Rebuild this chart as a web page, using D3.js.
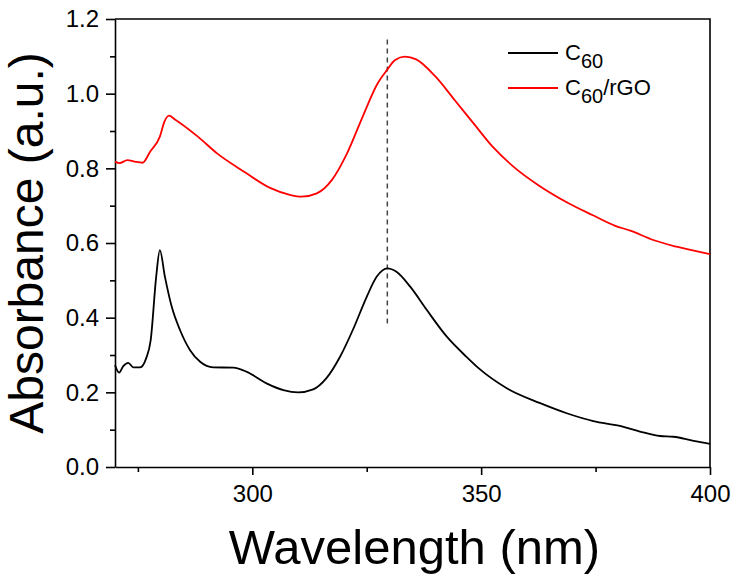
<!DOCTYPE html>
<html><head><meta charset="utf-8">
<script src="https://cdn.jsdelivr.net/npm/d3@7"></script>
<style>
html,body{margin:0;padding:0;background:#fff;}
svg{display:block;font-family:Arial,"Liberation Sans",sans-serif;}
</style></head>
<body>
<svg id="chart" width="740" height="577"></svg>
<script>
// ---- data ----
const c60Wavelength = [270, 270.9, 271.8, 272.9, 274, 275.5, 276.8, 277.8, 279, 279.8, 280.9, 282.4, 284.2, 286.4, 288.6, 291.5, 295.8, 298.8, 303.1, 306.8, 310, 313.3, 316.2, 319.2, 322.1, 325, 327.2, 329.5, 331.5, 334.5, 338.1, 342.5, 346.8, 349.5, 355.6, 362.9, 368.7, 374.5, 380.3, 384.7, 389.1, 392, 396.4, 400];
const c60Absorbance = [0.273, 0.253, 0.27, 0.279, 0.267, 0.267, 0.291, 0.34, 0.51, 0.581, 0.51, 0.429, 0.367, 0.313, 0.282, 0.267, 0.266, 0.255, 0.224, 0.206, 0.200, 0.208, 0.238, 0.296, 0.371, 0.456, 0.510, 0.532, 0.523, 0.483, 0.421, 0.349, 0.295, 0.264, 0.211, 0.171, 0.144, 0.123, 0.110, 0.095, 0.083, 0.081, 0.070, 0.062];

const rgoWavelength = [270, 271, 272.7, 274.3, 276, 277.7, 279.8, 280.8, 281.8, 283.1, 288.1, 292.3, 298.2, 304, 308.2, 310.7, 314.1, 317.4, 320.7, 324.1, 327.4, 329.4, 331.2, 333.3, 335.8, 340, 344.2, 348.3, 352.5, 357.5, 362.5, 369.2, 374.3, 379.3, 382.6, 387.6, 392.7, 400];
const rgoAbsorbance = [0.818, 0.814, 0.822, 0.818, 0.815, 0.845, 0.885, 0.925, 0.941, 0.931, 0.885, 0.840, 0.791, 0.747, 0.729, 0.724, 0.733, 0.769, 0.840, 0.938, 1.028, 1.063, 1.090, 1.099, 1.092, 1.046, 0.983, 0.921, 0.858, 0.800, 0.755, 0.706, 0.675, 0.646, 0.633, 0.608, 0.590, 0.570];

const seriesNames = ["C60", "C60/rGO"];
const seriesColors = ["#000000", "#ff0000"];
const xTicks = [300, 350, 400];
const xMinorTicks = [275, 325, 375];
const yTicks = [0.0, 0.2, 0.4, 0.6, 0.8, 1.0, 1.2];
const yMinorTicks = [0.1, 0.3, 0.5, 0.7, 0.9, 1.1];
const markerWavelength = 329.5;
const markerRange = [0.375, 1.145];

// ---- layout ----
const svg = d3.select("#chart");
const L = 115, R = 710, T = 19, B = 467;
const x = d3.scaleLinear().domain([270, 400]).range([L, R]);
const y = d3.scaleLinear().domain([0, 1.2]).range([B, T]);

// frame (top & right)
svg.append("path")
  .attr("d", `M${L},${T}H${R}V${B}`)
  .attr("fill", "none").attr("stroke", "#000").attr("stroke-width", 1.6);

// x axis
svg.append("g").attr("transform", `translate(0,${B})`)
  .call(d3.axisBottom(x).tickValues(xTicks).tickFormat(d3.format("d")).tickSize(8).tickSizeOuter(0).tickPadding(10));
svg.append("g").attr("transform", `translate(0,${B})`)
  .call(d3.axisBottom(x).tickValues(xMinorTicks).tickFormat("").tickSize(5).tickSizeOuter(0))
  .select(".domain").remove();

// y axis
svg.append("g").attr("transform", `translate(${L},0)`)
  .call(d3.axisLeft(y).tickValues(yTicks).tickFormat(d3.format(".1f")).tickSize(9).tickSizeOuter(0).tickPadding(7));
svg.append("g").attr("transform", `translate(${L},0)`)
  .call(d3.axisLeft(y).tickValues(yMinorTicks).tickFormat("").tickSize(5).tickSizeOuter(0))
  .select(".domain").remove();

svg.selectAll(".domain").attr("stroke", "#000").attr("stroke-width", 1.6);
svg.selectAll(".tick line").attr("stroke", "#000").attr("stroke-width", 1.6);
svg.selectAll(".tick text").attr("font-size", 24).attr("font-family", "Arial, 'Liberation Sans', sans-serif").attr("fill", "#000");

// lines
const line = d3.line().x(d => x(d[0])).y(d => y(d[1])).curve(d3.curveMonotoneX);
const c60Data = c60Wavelength.map((w, i) => [w, c60Absorbance[i]]);
const rgoData = rgoWavelength.map((w, i) => [w, rgoAbsorbance[i]]);

// dashed marker
svg.append("line")
  .attr("x1", x(markerWavelength)).attr("x2", x(markerWavelength))
  .attr("y1", y(markerRange[1])).attr("y2", y(markerRange[0]))
  .attr("stroke", "#444").attr("stroke-width", 1.5).attr("stroke-dasharray", "5,4");

svg.append("path").datum(rgoData).attr("d", line)
  .attr("fill", "none").attr("stroke", seriesColors[1]).attr("stroke-width", 1.8);
svg.append("path").datum(c60Data).attr("d", line)
  .attr("fill", "none").attr("stroke", seriesColors[0]).attr("stroke-width", 1.8);

// legend
const legend = svg.append("g");
const legendRows = [{y: 53, name: seriesNames[0], color: seriesColors[0]}, {y: 88, name: seriesNames[1], color: seriesColors[1]}];
legendRows.forEach(r => {
  legend.append("line").attr("x1", 508).attr("x2", 558).attr("y1", r.y).attr("y2", r.y)
    .attr("stroke", r.color).attr("stroke-width", 1.8);
  const t = legend.append("text").attr("x", 565).attr("y", r.y + 7).attr("font-size", 22).attr("fill", "#000");
  t.append("tspan").text("C");
  t.append("tspan").attr("dy", 8).attr("font-size", 20).text("60");
  if (r.name.indexOf("/") >= 0) t.append("tspan").attr("dy", -8).text(r.name.slice(3));
});

// axis titles
svg.append("text").attr("x", (L + R) / 2 + 2).attr("y", 564).attr("text-anchor", "middle")
  .attr("font-size", 49).attr("fill", "#000").text("Wavelength (nm)");
svg.append("text").attr("transform", `translate(43,${(T + B) / 2}) rotate(-90)`).attr("text-anchor", "middle")
  .attr("font-size", 48).attr("fill", "#000").text("Absorbance (a.u.)");
</script>
</body></html>
